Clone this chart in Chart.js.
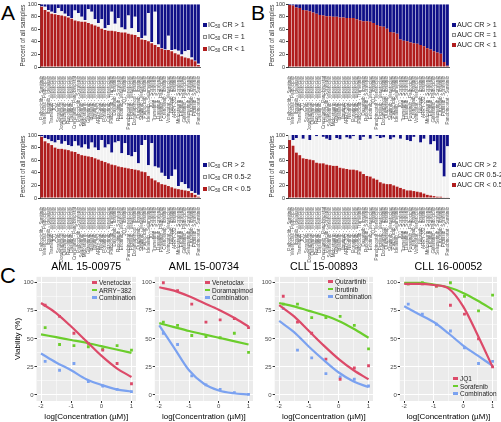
<!DOCTYPE html>
<html>
<head>
<meta charset="utf-8">
<script src="https://cdn.jsdelivr.net/npm/chart.js@4.4.1/dist/chart.umd.min.js"></script>
<style>
  html, body { margin: 0; padding: 0; background: #fff; }
  body { width: 501px; height: 422px; position: relative; overflow: hidden; font-family: Arial, "Liberation Sans", sans-serif; }
  canvas { position: absolute; }
  .letter { position: absolute; font-size: 21px; line-height: 21px; color: #000; }
  .leg { position: absolute; font-size: 7.2px; line-height: 10px; color: #222; white-space: nowrap; }
  .leg i { display: inline-block; width: 4px; height: 4px; margin-right: 1px; box-sizing: border-box; }
  .leg sub { font-size: 4.5px; vertical-align: -1px; }
  .cleg { position: absolute; font-size: 6.5px; line-height: 7.5px; color: #1a1a1a; white-space: nowrap; }
  .cleg i { display: inline-block; width: 5px; height: 2.2px; margin-right: 2px; vertical-align: 1.5px; }
</style>
</head>
<body>
<div class="letter" style="left:1px;top:2px">A</div>
<div class="letter" style="left:251px;top:2px">B</div>
<div class="letter" style="left:0px;top:265px;font-size:22px">C</div>

<canvas id="a1" width="205" height="130" style="left:0;top:0"></canvas>
<canvas id="a2" width="205" height="150" style="left:0;top:130px"></canvas>
<canvas id="b1" width="204" height="130" style="left:250px;top:0"></canvas>
<canvas id="b2" width="204" height="150" style="left:250px;top:130px"></canvas>

<canvas id="c1" width="140" height="162" style="left:0;top:260px"></canvas>
<canvas id="c2" width="117" height="162" style="left:140px;top:260px"></canvas>
<canvas id="c3" width="120" height="162" style="left:257px;top:260px"></canvas>
<canvas id="c4" width="121" height="162" style="left:380px;top:260px"></canvas>

<div class="leg" style="left:203px;top:20px">
  <div><i style="background:#101088"></i>IC<sub>50</sub> CR &gt; 1</div>
  <div><i style="background:#f2f2f2;border:0.5px solid #888"></i>IC<sub>50</sub> CR = 1</div>
  <div><i style="background:#b01d1d"></i>IC<sub>50</sub> CR &lt; 1</div>
</div>
<div class="leg" style="left:203px;top:160px">
  <div><i style="background:#101088"></i>IC<sub>50</sub> CR &gt; 2</div>
  <div><i style="background:#f2f2f2;border:0.5px solid #888"></i>IC<sub>50</sub> CR 0.5-2</div>
  <div><i style="background:#b01d1d"></i>IC<sub>50</sub> CR &lt; 0.5</div>
</div>
<div class="leg" style="left:452px;top:20px">
  <div><i style="background:#101088"></i>AUC CR &gt; 1</div>
  <div><i style="background:#f2f2f2;border:0.5px solid #888"></i>AUC CR = 1</div>
  <div><i style="background:#b01d1d"></i>AUC CR &lt; 1</div>
</div>
<div class="leg" style="left:452px;top:160px">
  <div><i style="background:#101088"></i>AUC CR &gt; 2</div>
  <div><i style="background:#f2f2f2;border:0.5px solid #888"></i>AUC CR 0.5-2</div>
  <div><i style="background:#b01d1d"></i>AUC CR &lt; 0.5</div>
</div>

<div class="cleg" style="left:92px;top:279px">
  <div><i style="background:#dc4a69"></i>Venetoclax</div>
  <div><i style="background:#6bcd2c"></i>ARRY−382</div>
  <div><i style="background:#7ba2f0"></i>Combination</div>
</div>
<div class="cleg" style="left:205px;top:279px">
  <div><i style="background:#dc4a69"></i>Venetoclax</div>
  <div><i style="background:#6bcd2c"></i>Doramapimod</div>
  <div><i style="background:#7ba2f0"></i>Combination</div>
</div>
<div class="cleg" style="left:328px;top:278px">
  <div><i style="background:#dc4a69"></i>Quizartinib</div>
  <div><i style="background:#6bcd2c"></i>Ibrutinib</div>
  <div><i style="background:#7ba2f0"></i>Combination</div>
</div>
<div class="cleg" style="left:453px;top:375px">
  <div><i style="background:#dc4a69"></i>JQ1</div>
  <div><i style="background:#6bcd2c"></i>Sorafenib</div>
  <div><i style="background:#7ba2f0"></i>Combination</div>
</div>

<script>
// drug pair names along the bar charts
const drugPairs = [
	"Palbociclib - Sunitinib", "Venetoclax - Palbociclib", "Ibrutinib - Idelalisib", "Trametinib - Venetoclax",
	"JQ1 - Venetoclax", "Sorafenib - Venetoclax", "Doramapimod - Venetoclax", "Quizartinib - Venetoclax",
	"Ruxolitinib - Venetoclax", "Dasatinib - Venetoclax", "Crenolanib - Panobinostat", "Palbociclib - Sorafenib",
	"Selumetinib - Venetoclax", "Midostaurin - Venetoclax", "Gilteritinib - Venetoclax", "Idelalisib - Venetoclax",
	"Ibrutinib - Venetoclax", "ARRY-382 - Venetoclax", "Nilotinib - Venetoclax", "Ponatinib - Venetoclax",
	"Crizotinib - Venetoclax", "Palbociclib - Trametinib", "Dasatinib - Ibrutinib", "Ruxolitinib - Sorafenib",
	"Erlotinib - Venetoclax", "JQ1 - Ibrutinib", "Panobinostat - Venetoclax", "Pictilisib - Venetoclax",
	"Doramapimod - Ibrutinib", "Quizartinib - Ibrutinib", "Sunitinib - Venetoclax", "Palbociclib - Ibrutinib",
	"Idelalisib - Selumetinib", "JQ1 - Sorafenib", "Trametinib - Sorafenib", "Dasatinib - Sorafenib",
	"Ponatinib - Palbociclib", "Crenolanib - Ibrutinib", "Vorinostat - Venetoclax", "Nilotinib - Ibrutinib",
	"ARRY-382 - Ibrutinib", "Midostaurin - Sorafenib", "Erlotinib - Sorafenib", "Gilteritinib - Palbociclib",
	"Selumetinib - Sorafenib", "Crizotinib - Ibrutinib", "Pictilisib - Sorafenib", "Panobinostat - Sunitinib",
];

// percent of samples: low (red) and middle (white) classes; the rest is the high class (navy)
const ic50Lt1 = [96, 91, 88, 85, 84, 83, 82, 81, 79, 77, 74, 73, 72, 72, 70, 68, 66, 64, 61, 59, 58, 58, 57, 56,
	55, 55, 53, 52, 51, 48, 44, 43, 41, 38, 35, 32, 29, 27, 27, 25, 22, 20, 17, 15, 14, 12, 9, 3];
const ic50Eq1 = [1, 5, 3, 3, 2, 11, 7, 4, 2, 1, 16, 13, 8, 3, 22, 20, 10, 6, 15, 3, 9, 30, 12, 22,
	8, 5, 29, 10, 29, 8, 2, 7, 45, 2, 53, 4, 1, 1, 23, 2, 6, 6, 3, 10, 13, 3, 1, 2];

const ic50Lt05 = [97, 90, 87, 84, 80, 78, 78, 77, 76, 74, 73, 70, 68, 67, 66, 65, 63, 61, 59, 57, 55, 53, 52, 50,
	49, 48, 47, 46, 45, 44, 42, 41, 35, 31, 28, 25, 22, 21, 19, 17, 15, 14, 13, 12, 11, 8, 5, 2];
const ic50Mid = [1, 5, 6, 6, 8, 14, 8, 13, 8, 8, 17, 13, 12, 18, 12, 23, 17, 15, 33, 23, 30, 19, 36, 40,
	22, 39, 21, 20, 28, 11, 42, 51, 17, 56, 22, 23, 18, 14, 11, 18, 30, 5, 12, 10, 4, 3, 3, 3];

const aucLt1 = [99, 98, 95, 94, 91, 90, 89, 87, 85, 83, 82, 81, 81, 80, 80, 79, 79, 78, 78, 78, 76, 74, 73, 73,
	72, 70, 67, 65, 64, 61, 56, 55, 53, 44, 42, 41, 39, 38, 37, 35, 33, 30, 28, 25, 23, 21, 8, 2];
const aucEq1 = [0, 0, 0, 0, 0, 0, 0, 0, 0, 0, 0, 0, 0, 0, 0, 0, 0, 0, 0, 0, 0, 0, 0, 0,
	0, 0, 0, 0, 0, 0, 0, 0, 0, 0, 0, 0, 0, 0, 0, 0, 0, 0, 0, 0, 0, 0, 0, 0];

const aucLt05 = [92, 83, 72, 68, 63, 62, 61, 60, 56, 55, 55, 53, 52, 51, 51, 48, 47, 46, 45, 45, 44, 42, 38, 35,
	34, 31, 29, 25, 23, 22, 22, 20, 18, 16, 14, 12, 12, 11, 10, 9, 7, 5, 4, 3, 2, 2, 1, 1];
const aucMid = [8, 9, 23, 32, 31, 38, 31, 40, 42, 45, 42, 41, 40, 49, 44, 45, 53, 50, 49, 53, 56, 50, 59, 65,
	60, 69, 69, 70, 73, 78, 71, 76, 82, 78, 86, 80, 78, 86, 90, 79, 87, 95, 81, 87, 73, 53, 33, 81];

// panel C: dose points (log10 uM) and the fitted curve read at fitX
const doses = [-1.863, -1.385, -0.908, -0.431, 0.046, 0.523, 1];
const fitX = [-2, -1.5, -1, -0.5, 0, 0.5, 1];

const c1Names = ["Venetoclax", "ARRY−382", "Combination"];
const c1Pts = [[80, 70, 55, 46, 40, 28, 10], [60, 45, 44, 43, 41, 44, 40], [30, 22, 28, 12, 8, 5, 3]];
const c1Fit = [[82, 73, 61, 48, 35, 24, 16], [54, 51.5, 49, 46.5, 43.5, 40.5, 37.5], [37, 29, 22, 14, 9, 5, 3]];

const c2Names = ["Venetoclax", "Doramapimod", "Combination"];
const c2Pts = [[100, 93, 81, 65, 67, 68, 60], [65, 62, 53, 52, 51, 55, 38], [55, 45, 17, 9, 5, 2, 0.5]];
const c2Fit = [[96, 93, 88, 82, 76, 69, 61], [64, 60.5, 57, 54, 51, 48, 45], [62, 42, 22, 10, 4, 1.5, 0.5]];

const c3Names = ["Quizartinib", "Ibrutinib", "Combination"];
const c3Pts = [[88, 65, 55, 32, 14, 24, 26], [81, 81, 69, 69, 70, 62, 41], [77, 40, 33, 19, 16, 14, 8]];
const c3Fit = [[80, 70, 57, 44, 32, 22, 14], [82, 79, 75, 71, 66, 59, 51], [66, 56, 43, 31, 20, 12, 7]];

const c4Names = ["JQ1", "Sorafenib", "Combination"];
const c4Pts = [[99, 99, 97, 80, 72, 50, 25], [99, 100, 97, 100, 88, 75, 89], [81, 72, 63, 57, 42, 28, 30]];
const c4Fit = [[99, 99, 98, 95, 79, 53, 25], [100, 100, 98.5, 96, 91, 84, 76], [79, 72, 65, 55, 44, 35, 26]];

const RED = "#b01d1d";
const PALE = "#f2f2f2";
const NAVY = "#101088";
const LINE_COLORS = ["#dc4a69", "#6bcd2c", "#7ba2f0"];

Chart.defaults.font.family = "Arial, 'Liberation Sans', sans-serif";

function draw_bars(id, lt, mid, opts) {
	const hi = lt.map((v, i) => 100 - v - mid[i]);
	new Chart(document.getElementById(id), {
		type: "bar",
		data: {
			labels: drugPairs,
			datasets: [
				{ data: lt, backgroundColor: RED },
				{ data: mid, backgroundColor: PALE },
				{ data: hi, backgroundColor: NAVY },
			],
		},
		options: {
			responsive: false,
			animation: false,
			layout: { padding: { top: opts.top, right: opts.right, left: 0, bottom: 0 } },
			datasets: { bar: { categoryPercentage: 1, barPercentage: 0.84 } },
			plugins: { legend: { display: false }, tooltip: { enabled: false } },
			scales: {
				x: {
					stacked: true,
					grid: { display: false },
					border: { color: "#333", width: 0.8 },
					ticks: { font: { size: 4.6 }, color: "#555", autoSkip: false, minRotation: 90, maxRotation: 90, padding: 1 },
					afterFit: (s) => { s.height = opts.xh; },
				},
				y: {
					stacked: true,
					min: 0,
					max: 100,
					grid: { drawOnChartArea: false, tickLength: 2, color: "#333" },
					border: { color: "#333", width: 0.8 },
					ticks: { stepSize: 20, font: { size: 5.5 }, color: "#333", padding: 1 },
					title: { display: true, text: "Percent of all samples", font: { size: 6.3 }, color: "#333", padding: { top: opts.tp, bottom: 0 } },
					afterFit: (s) => { s.width = opts.yw; },
				},
			},
		},
	});
}

draw_bars("a1", ic50Lt1, ic50Eq1, { top: 4, right: 4, xh: 63, yw: 40, tp: 19 });
draw_bars("a2", ic50Lt05, ic50Mid, { top: 5, right: 4, xh: 82, yw: 40, tp: 19 });
draw_bars("b1", aucLt1, aucEq1, { top: 4, right: 4, xh: 63, yw: 38, tp: 18 });
draw_bars("b2", aucLt05, aucMid, { top: 5, right: 4, xh: 82, yw: 38, tp: 18 });

// grey ggplot-like panel background
const panelBg = {
	id: "panelBg",
	beforeDraw(chart) {
		const { ctx, chartArea: a } = chart;
		ctx.save();
		ctx.fillStyle = "#ebebeb";
		ctx.fillRect(a.left, a.top, a.right - a.left, a.bottom - a.top);
		ctx.restore();
	},
};

const isMajor = (v, step) => Math.abs(v / step - Math.round(v / step)) < 1e-6;

function draw_dose(id, title, names, pts, fit, opts) {
	const datasets = [];
	names.forEach((name, k) => {
		datasets.push({
			label: name,
			data: fitX.map((x, i) => ({ x, y: fit[k][i] })),
			borderColor: LINE_COLORS[k],
			borderWidth: 2.2,
			pointRadius: 0,
			cubicInterpolationMode: "monotone",
			order: 1,
		});
		datasets.push({
			label: name + " points",
			data: doses.map((x, i) => ({ x, y: pts[k][i] })),
			showLine: false,
			pointStyle: "rect",
			pointRadius: 2,
			pointBorderWidth: 0,
			pointBackgroundColor: LINE_COLORS[k],
			order: 2,
		});
	});

	new Chart(document.getElementById(id), {
		type: "line",
		data: { datasets },
		plugins: [panelBg],
		options: {
			responsive: false,
			animation: false,
			layout: { padding: { top: 0, right: opts.right, left: 0, bottom: 0 } },
			plugins: {
				legend: { display: false },
				tooltip: { enabled: false },
				title: {
					display: true,
					text: title,
					fullSize: false,
					font: { size: 10.7, weight: "normal" },
					color: "#000",
					padding: { top: 1, bottom: 3 },
				},
			},
			scales: {
				x: {
					type: "linear",
					min: -2.15,
					max: 1.15,
					afterBuildTicks: (s) => { s.ticks = fitX.map((v) => ({ value: v })); },
					grid: {
						color: "#ffffff",
						lineWidth: (c) => (c.tick && isMajor(c.tick.value, 1) ? 1 : 0.5),
						tickColor: (c) => (c.tick && isMajor(c.tick.value, 1) ? "#333" : "rgba(0,0,0,0)"),
						tickLength: 2,
					},
					border: { display: false },
					ticks: {
						font: { size: 6 },
						color: "#4d4d4d",
						padding: 0,
						autoSkip: false,
						maxRotation: 0,
						callback: (v) => (isMajor(v, 1) ? String(v) : ""),
					},
					title: {
						display: true,
						text: "log[Concentration (µM)]",
						font: { size: 8 },
						color: "#000",
						padding: { top: 0, bottom: 0.7 },
					},
					afterFit: (s) => { s.height = 21; },
				},
				y: {
					min: -5.4,
					max: 105.3,
					afterBuildTicks: (s) => { s.ticks = [0, 12.5, 25, 37.5, 50, 62.5, 75, 87.5, 100].map((v) => ({ value: v })); },
					grid: {
						color: "#ffffff",
						lineWidth: (c) => (c.tick && isMajor(c.tick.value, 25) ? 1 : 0.5),
						tickColor: (c) => (c.tick && isMajor(c.tick.value, 25) ? "#333" : "rgba(0,0,0,0)"),
						tickLength: 2,
					},
					border: { display: false },
					ticks: {
						font: { size: 6 },
						color: "#4d4d4d",
						padding: 1,
						callback: (v) => (isMajor(v, 25) ? String(v) : ""),
					},
					title: {
						display: !!opts.yTitle,
						text: "Viability (%)",
						font: { size: 8 },
						color: "#000",
						padding: { top: 13, bottom: 0 },
					},
					afterFit: (s) => { s.width = opts.yw; },
				},
			},
		},
	});
}

draw_dose("c1", "AML 15-00975", c1Names, c1Pts, c1Fit, { yw: 36.5, right: 2.5, yTitle: true });
draw_dose("c2", "AML 15-00734", c2Names, c2Pts, c2Fit, { yw: 14.8, right: 2.5 });
draw_dose("c3", "CLL 15-00893", c3Names, c3Pts, c3Fit, { yw: 17.7, right: 1.7 });
draw_dose("c4", "CLL 16-00052", c4Names, c4Pts, c4Fit, { yw: 19.8, right: 1.5 });
</script>
</body>
</html>
